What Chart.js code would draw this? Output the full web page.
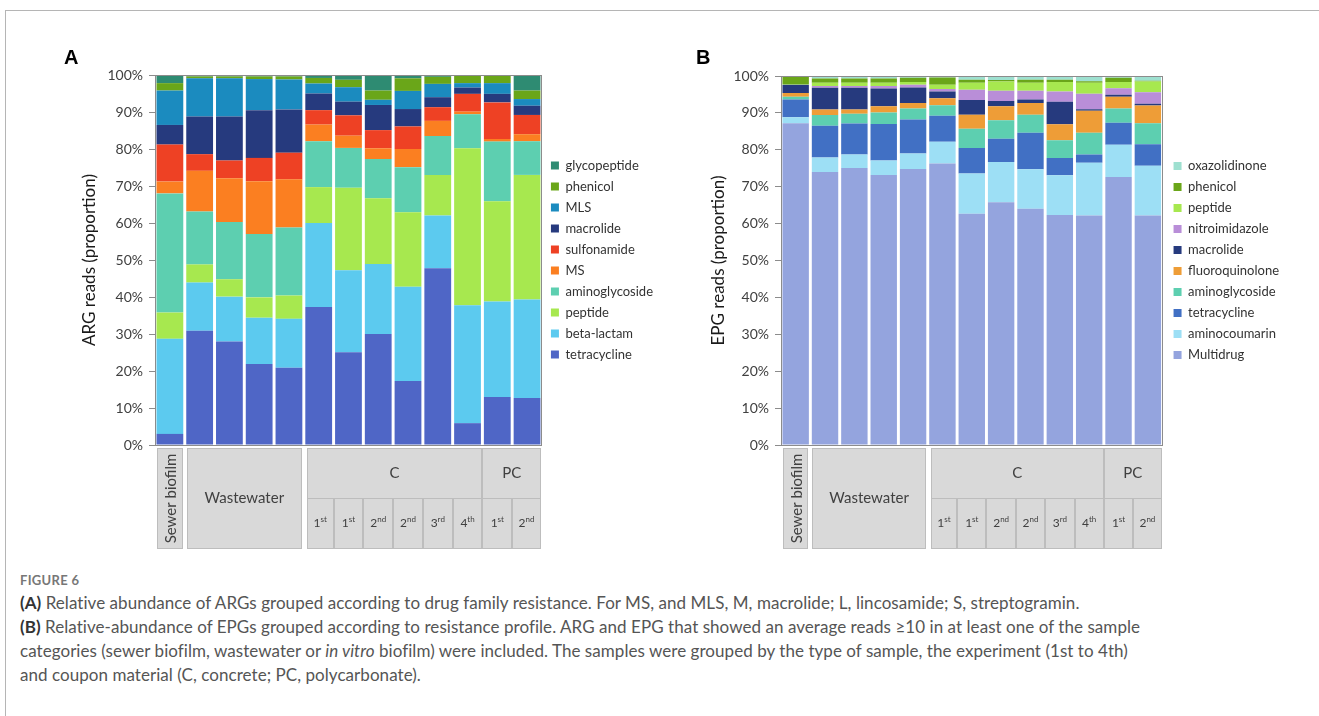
<!DOCTYPE html>
<html>
<head>
<meta charset="UTF-8">
<title>Figure 6</title>
<script src="https://cdn.jsdelivr.net/npm/chart.js@4.4.1/dist/chart.umd.min.js"></script>
<style>
  body { margin: 0; background: #fff; width: 1319px; height: 716px; position: relative; overflow: hidden; font-family: Lato, sans-serif; }
  #frame { position: absolute; left: 5px; top: 10px; width: 1320px; height: 720px; border-top: 1px solid #b5b5b5; border-left: 1px solid #b5b5b5; }
  canvas { position: absolute; top: 0; }
  #cA { left: 0; }
  #cB { left: 640px; }
  .panel { position: absolute; top: 46px; font: bold 20px "Liberation Sans", Arial, sans-serif; color: #000; }
  #caption { position: absolute; left: 20px; top: 570px; color: #555; font-size: 17px; letter-spacing: 0.05px; line-height: 24px; white-space: nowrap; }
  #caption .fig { font-size: 13px; font-weight: bold; color: #777; letter-spacing: 0.3px; line-height: 20px; margin-bottom: 1px; }
  #caption b { color: #333; }
</style>
</head>
<body>
<div id="frame"></div>
<canvas id="cA" width="670" height="560"></canvas>
<canvas id="cB" width="679" height="560"></canvas>
<div class="panel" style="left:64px">A</div>
<div class="panel" style="left:696px">B</div>
<div id="caption">
  <div class="fig">FIGURE 6</div>
  <b>(A)</b> Relative abundance of ARGs grouped according to drug family resistance. For MS, and MLS, M, macrolide; L, lincosamide; S, streptogramin.<br>
  <b>(B)</b> Relative-abundance of EPGs grouped according to resistance profile. ARG and EPG that showed an average reads &ge;10 in at least one of the sample<br>
  categories (sewer biofilm, wastewater or <i>in vitro</i> biofilm) were included. The samples were grouped by the type of sample, the experiment (1st to 4th)<br>
  and coupon material (C, concrete; PC, polycarbonate).
</div>
<script>
// samples (x categories), same for both panels
var samples = ['Sewer biofilm', 'Wastewater 1', 'Wastewater 2', 'Wastewater 3', 'Wastewater 4',
  'C 1st a', 'C 1st b', 'C 2nd a', 'C 2nd b', 'C 3rd', 'C 4th', 'PC 1st', 'PC 2nd'];
// label table under the bars: [label, first sample, last sample]
var typeGroups = [['Sewer biofilm', 0, 0], ['Wastewater', 1, 4]];
var couponGroups = [['C', 5, 10], ['PC', 11, 12]];
var experiments = ['1st', '1st', '2nd', '2nd', '3rd', '4th', '1st', '2nd']; // samples 5..12

var yTicks = [0, 10, 20, 30, 40, 50, 60, 70, 80, 90, 100];

// Panel A - ARG reads, % per sample (bottom to top)
var argNames = ['tetracycline', 'beta-lactam', 'peptide', 'aminoglycoside', 'MS', 'sulfonamide', 'macrolide', 'MLS', 'phenicol', 'glycopeptide'];
var argTetracycline = [3.0, 30.9, 28.0, 21.9, 20.9, 37.3, 25.1, 30.0, 17.3, 47.8, 5.9, 13.0, 12.7];
var argBetaLactam   = [25.7, 13.0, 12.1, 12.5, 13.2, 22.7, 22.1, 18.9, 25.5, 14.2, 31.9, 25.8, 26.6];
var argPeptide      = [7.1, 4.9, 4.7, 5.5, 6.3, 9.7, 22.3, 17.8, 20.1, 11.0, 42.4, 27.1, 33.7];
var argAminoglyc    = [32.2, 14.3, 15.5, 17.1, 18.4, 12.4, 10.8, 10.6, 12.2, 10.5, 9.2, 16.1, 9.1];
var argMS           = [3.2, 11.0, 11.8, 14.3, 13.0, 4.5, 3.3, 2.9, 4.9, 4.1, 0.7, 0.7, 1.9];
var argSulfonamide  = [10.0, 4.5, 4.8, 6.3, 7.2, 3.9, 5.5, 4.9, 6.1, 3.7, 4.8, 9.9, 5.2];
var argMacrolide    = [5.3, 10.2, 11.9, 12.9, 11.7, 4.5, 3.7, 6.8, 4.7, 2.7, 1.7, 2.3, 2.5];
var argMLS          = [9.3, 10.3, 10.3, 8.4, 8.1, 2.7, 3.9, 1.4, 4.9, 3.6, 1.2, 2.9, 1.8];
var argPhenicol     = [2.0, 0.5, 0.5, 0.7, 0.8, 1.5, 2.0, 2.5, 3.4, 1.9, 2.2, 2.2, 2.3];
var argGlycopeptide = [2.2, 0.4, 0.4, 0.4, 0.4, 0.8, 1.3, 4.2, 0.9, 0.5, 0, 0, 4.2];
var argColors = ['#4f66c6', '#5ccaef', '#a7e84f', '#5dcfb0', '#fb7f21', '#ee4124', '#263a7e', '#1b8bbf', '#6aa619', '#2e8b72'];

// Panel B - EPG reads, % per sample (bottom to top)
var epgNames = ['Multidrug', 'aminocoumarin', 'tetracycline', 'aminoglycoside', 'fluoroquinolone', 'macrolide', 'nitroimidazole', 'peptide', 'phenicol', 'oxazolidinone'];
var epgMultidrug     = [87.2, 74.0, 75.1, 73.2, 74.8, 76.3, 62.7, 65.8, 64.0, 62.3, 62.2, 72.6, 62.2];
var epgAminocoumarin = [1.6, 3.9, 3.6, 3.9, 4.2, 5.9, 10.9, 10.9, 10.7, 10.8, 14.3, 8.8, 13.5];
var epgTetracycline  = [4.8, 8.6, 8.4, 9.9, 9.2, 7.0, 6.9, 6.3, 9.9, 4.7, 2.2, 5.9, 5.8];
var epgAminoglyc     = [0.8, 2.9, 2.7, 3.1, 3.0, 2.9, 5.2, 5.0, 4.9, 4.8, 5.9, 3.9, 5.7];
var epgFluoroquin    = [1.0, 1.5, 1.1, 1.7, 1.5, 1.9, 3.8, 3.8, 3.2, 4.3, 6.0, 3.2, 4.8];
var epgMacrolide     = [2.2, 5.9, 5.9, 4.8, 4.2, 1.8, 4.0, 1.4, 0.9, 6.1, 0.4, 0.5, 0.5];
var epgNitroimid     = [0, 0.5, 0.5, 0.7, 0.7, 0.7, 2.8, 2.8, 2.4, 2.8, 4.2, 1.8, 3.1];
var epgPeptide       = [0.2, 0.9, 0.9, 0.9, 0.8, 1.1, 1.9, 2.5, 2.2, 2.6, 3.0, 1.7, 2.9];
var epgPhenicol      = [2.2, 1.1, 1.1, 1.1, 1.1, 2.0, 0.8, 0.4, 0.8, 0.6, 0.4, 1.1, 0.2];
var epgOxazolidinone = [0, 0.7, 0.7, 0.7, 0.5, 0.4, 1.0, 1.1, 1.0, 1.0, 1.4, 0.5, 1.3];
var epgColors = ['#94a4de', '#9ddff5', '#4170c4', '#5dcfb0', '#ee9d37', '#263a7e', '#b98ed8', '#a7e84f', '#6aa619', '#9ee0d0'];

Chart.defaults.font.family = 'Lato, sans-serif';
Chart.defaults.color = '#404040';

// draws the plot frame and the sample table under the x axis
var sampleTable = {
  id: 'sampleTable',
  afterLayout: function (chart, args, opts) {
    // push the legend a little away from the plot frame
    chart.legend.left += opts.legendShift;
    chart.legend.right += opts.legendShift;
  },
  afterDraw: function (chart) {
    var ctx = chart.ctx, ca = chart.chartArea, x = chart.scales.x;
    var half = (x.getPixelForValue(1) - x.getPixelForValue(0)) / 2;
    var L = function (i) { return x.getPixelForValue(i) - half; };
    var R = function (i) { return x.getPixelForValue(i) + half; };
    var top = ca.bottom + 3.5, mid = top + 50, bot = top + 100;

    ctx.save();
    ctx.strokeStyle = '#8c8c8c';
    ctx.lineWidth = 1;
    ctx.strokeRect(Math.round(ca.left) + 0.5, Math.round(ca.top) + 0.5, Math.round(ca.right - ca.left) - 1, Math.round(ca.bottom - ca.top));

    ctx.fillStyle = '#d9d9d9';
    ctx.strokeStyle = '#bdbdbd';
    function cell(x0, y0, x1, y1) {
      x0 = Math.round(x0) + 0.5; x1 = Math.round(x1) - 0.5;
      ctx.fillRect(x0, y0, x1 - x0, y1 - y0);
      ctx.strokeRect(x0, y0, x1 - x0, y1 - y0);
    }
    ctx.textAlign = 'center';
    ctx.textBaseline = 'middle';

    typeGroups.forEach(function (g) {
      var x0 = L(g[1]) + 2, x1 = R(g[2]) - 2;
      cell(x0, top, x1, bot);
      ctx.fillStyle = '#404040';
      ctx.font = '15px Lato, sans-serif';
      if (g[1] === g[2]) {
        ctx.save();
        ctx.translate((x0 + x1) / 2 + 1, (top + bot) / 2);
        ctx.rotate(-Math.PI / 2);
        ctx.fillText(g[0], 0, 0);
        ctx.restore();
      } else {
        ctx.fillText(g[0], (x0 + x1) / 2, (top + bot) / 2);
      }
      ctx.fillStyle = '#d9d9d9';
    });

    var first = couponGroups[0][1];
    couponGroups.forEach(function (g, k) {
      var x0 = L(g[1]) + (k === 0 ? 3 : 0), x1 = R(g[2]) - (k === couponGroups.length - 1 ? 1 : 0);
      cell(x0, top, x1, mid);
      ctx.fillStyle = '#404040';
      ctx.font = '15px Lato, sans-serif';
      ctx.fillText(g[0], (x0 + x1) / 2, (top + mid) / 2);
      ctx.fillStyle = '#d9d9d9';
    });
    experiments.forEach(function (e, k) {
      var i = first + k;
      var x0 = L(i) + (k === 0 ? 3 : 0), x1 = R(i) - (k === experiments.length - 1 ? 1 : 0);
      cell(x0, mid, x1, bot);
      var num = e.slice(0, 1), suf = e.slice(1);
      ctx.font = '12px Lato, sans-serif';
      var wn = ctx.measureText(num).width;
      ctx.font = '8px Lato, sans-serif';
      var ws = ctx.measureText(suf).width;
      var sx = (x0 + x1) / 2 - (wn + ws) / 2, cy = (mid + bot) / 2;
      ctx.fillStyle = '#404040';
      ctx.textAlign = 'left';
      ctx.font = '12px Lato, sans-serif';
      ctx.fillText(num, sx, cy);
      ctx.font = '8px Lato, sans-serif';
      ctx.fillText(suf, sx + wn, cy - 4);
      ctx.textAlign = 'center';
      ctx.fillStyle = '#d9d9d9';
    });
    ctx.restore();
  }
};

function makePanel(id, names, series, colors, yTitle, pad, axisWidth, legendShift) {
  var datasets = names.map(function (n, i) {
    return {
      label: n,
      data: series[i],
      backgroundColor: colors[i],
      borderWidth: 0,
      barPercentage: 0.9,
      categoryPercentage: 1.0
    };
  });
  return new Chart(document.getElementById(id).getContext('2d'), {
    type: 'bar',
    data: { labels: samples, datasets: datasets },
    plugins: [sampleTable],
    options: {
      responsive: false,
      animation: false,
      devicePixelRatio: 1,
      layout: { padding: pad },
      scales: {
        x: { stacked: true, display: false },
        y: {
          stacked: true,
          min: 0,
          max: 100,
          afterFit: function (s) { s.width = axisWidth; },
          afterBuildTicks: function (s) { s.ticks = yTicks.map(function (v) { return { value: v }; }); },
          ticks: { font: { size: 14 }, color: '#404040', padding: 6, callback: function (v) { return v + '%'; } },
          grid: { drawOnChartArea: false, tickLength: 6, color: '#8c8c8c' },
          border: { display: false },
          title: { display: true, text: yTitle, font: { size: 17 }, color: '#1a1a1a' }
        }
      },
      plugins: {
        tooltip: { enabled: false },
        sampleTable: { legendShift: legendShift },
        legend: {
          position: 'right',
          reverse: true,
          labels: { boxWidth: 8, boxHeight: 8, padding: 8, font: { size: 13 }, color: '#333' }
        }
      }
    }
  });
}

makePanel('cA', argNames,
  [argTetracycline, argBetaLactam, argPeptide, argAminoglyc, argMS, argSulfonamide, argMacrolide, argMLS, argPhenicol, argGlycopeptide],
  argColors, 'ARG reads (proportion)', { top: 75, bottom: 115, left: 75, right: 8 }, 80, 1);

makePanel('cB', epgNames,
  [epgMultidrug, epgAminocoumarin, epgTetracycline, epgAminoglyc, epgFluoroquin, epgMacrolide, epgNitroimid, epgPeptide, epgPhenicol, epgOxazolidinone],
  epgColors, 'EPG reads (proportion)', { top: 76, bottom: 115, left: 64, right: 33 }, 77, 3);
</script>
</body>
</html>
